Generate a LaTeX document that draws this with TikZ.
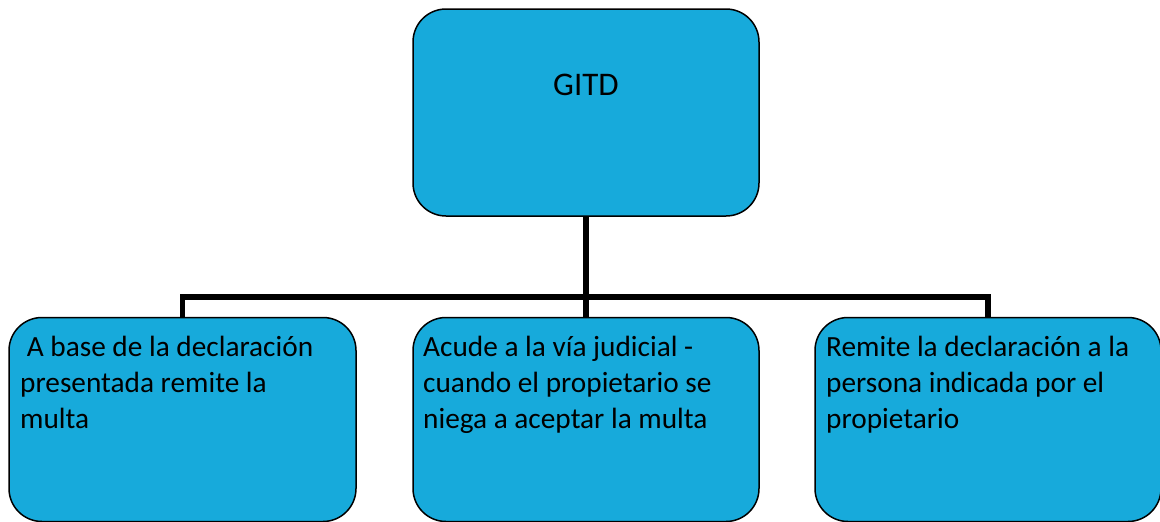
\documentclass[tikz,border=0pt]{standalone}
\usepackage{fontspec}
\setmainfont{Carlito}
\definecolor{boxfill}{RGB}{23,170,219}
\tikzset{
  box/.style={draw=black, line width=1.5pt, fill=boxfill, rounded corners=33pt,
    minimum width=346pt, minimum height=204pt, anchor=north west, inner sep=0pt, outer sep=0pt},
  bigbox/.style={box, minimum height=207pt},
  conn/.style={draw=black, line width=5.5pt},
  body/.style={anchor=north west, inner sep=0pt, align=left,
    font=\fontsize{29.3}{35.6}\selectfont},
  title/.style={anchor=base, inner sep=0pt, font=\fontsize{33}{40}\selectfont}
}
\begin{document}
\begin{tikzpicture}[x=1pt,y=-1pt]
\useasboundingbox (0,0) rectangle (1160,522);
\node[bigbox] (top) at (413,9) {};
\node[box, minimum width=347pt] (left) at (9,317.5) {};
\node[box] (mid) at (413,317.5) {};
\node[box] (right) at (815,317.5) {};
\coordinate (j) at (586,297);
\draw[conn] (top.south) -- (j);
\draw[conn] (j) -| (left.north);
\draw[conn] (j) -| (right.north);
\draw[conn] (j) -- (mid.north);
\node[title] (t0) at (586,95.5) {GITD};
\node[body] (t1) at (20,331.8) {\strut\ A base de la declaración\\presentada remite la\\multa};
\node[body] (t2) at (423,331.8) {\strut Acude a la vía judicial -\\cuando el propietario se\\niega a aceptar la multa};
\node[body] (t3) at (826,331.8) {\strut Remite la declaración a la\\persona indicada por el\\propietario};
\end{tikzpicture}
\end{document}
